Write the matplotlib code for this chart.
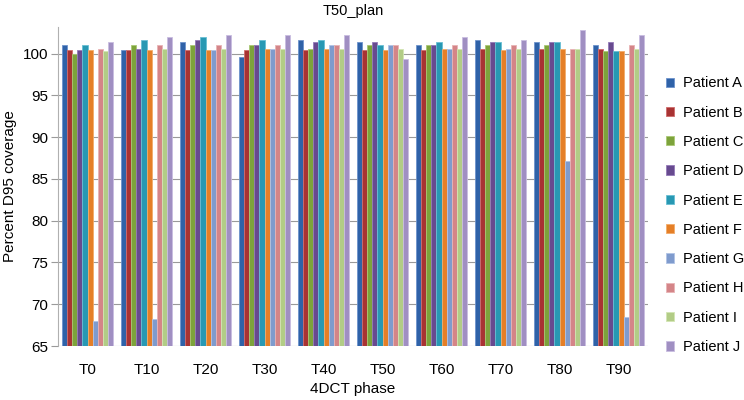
import numpy as np
import matplotlib.pyplot as plt

plt.rcParams['font.family'] = ['Liberation Sans', 'DejaVu Sans']

phases = ["T0", "T10", "T20", "T30", "T40", "T50", "T60", "T70", "T80", "T90"]
patients = ["Patient A", "Patient B", "Patient C", "Patient D", "Patient E",
            "Patient F", "Patient G", "Patient H", "Patient I", "Patient J"]

# D95 coverage (%) per patient, one value per phase
patient_a = [101.0, 100.4, 101.35, 99.6, 101.6, 101.35, 101.0, 101.6, 101.35, 101.0]
patient_b = [100.4, 100.4, 100.4, 100.4, 100.4, 100.4, 100.4, 100.6, 100.6, 100.6]
patient_c = [100.0, 101.0, 101.0, 101.0, 100.6, 101.0, 101.0, 101.0, 101.0, 100.3]
patient_d = [100.4, 100.6, 101.6, 101.0, 101.35, 101.35, 101.0, 101.35, 101.35, 101.35]
patient_e = [101.0, 101.6, 102.0, 101.6, 101.6, 101.0, 101.35, 101.35, 101.35, 100.3]
patient_f = [100.4, 100.4, 100.4, 100.6, 100.6, 100.4, 100.6, 100.4, 100.6, 100.3]
patient_g = [68.0, 68.2, 100.4, 100.6, 101.0, 101.0, 100.6, 100.6, 87.2, 68.5]
patient_h = [100.6, 101.0, 101.0, 101.0, 101.0, 101.0, 101.0, 101.0, 100.6, 101.0]
patient_i = [100.3, 100.6, 100.6, 100.6, 100.6, 100.6, 100.6, 100.6, 100.6, 100.6]
patient_j = [101.35, 102.0, 102.3, 102.3, 102.3, 99.35, 102.0, 101.6, 102.9, 102.3]

values = [patient_a, patient_b, patient_c, patient_d, patient_e,
          patient_f, patient_g, patient_h, patient_i, patient_j]

colors = ["#2f62a8", "#a83333", "#7da33b", "#674a8f", "#2898b3",
          "#e57f27", "#7f9bcd", "#d48588", "#b2cc86", "#a08fc2"]
edges = ["#6d93cc", "#cf6b6b", "#a9c875", "#9479b8", "#68bfd4",
         "#f2ab6a", "#b0c3e6", "#e8b3b5", "#d3e6b3", "#c9bde0"]

fig = plt.figure(figsize=(7.44, 4.0), dpi=100)
ax = fig.add_axes([0.078, 0.135, 0.793, 0.7975])

x = np.arange(len(phases))
bw = 0.0865
for i, (name, vals) in enumerate(zip(patients, values)):
    offs = (i - 4.5) * bw
    ax.bar(x + offs, vals, width=bw, color=colors[i], edgecolor=edges[i],
           linewidth=0.6, label=name, zorder=3)

ax.set_xlim(-0.5, len(phases) - 0.5)
ax.set_ylim(65, 103.2)
ax.set_yticks(np.arange(65, 101, 5))
ax.set_xticks(x)
ax.set_xticklabels(phases)
ax.yaxis.grid(True, color="#9a9a9a", linewidth=0.8, zorder=0)
ax.set_axisbelow(True)
for side in ["top", "right", "bottom"]:
    ax.spines[side].set_visible(False)
ax.spines["left"].set_color("#b0b0b0")
ax.tick_params(axis="y", length=5, color="#9a9a9a", labelsize=11, pad=2)
ax.tick_params(axis="x", length=0, labelsize=11, pad=12)

ax.set_title("T50_plan", fontsize=10.5, pad=9)
ax.set_xlabel("4DCT phase", fontsize=11, labelpad=4)
ax.set_ylabel("Percent D95 coverage", fontsize=11, labelpad=4)

ax.legend(loc="center left", bbox_to_anchor=(1.03, 0.41), frameon=False,
          borderaxespad=0, borderpad=0,
          fontsize=10.5, handlelength=0.6, handleheight=0.6, handletextpad=0.6,
          labelspacing=1.05)

fig.savefig("out.png", dpi=100)
